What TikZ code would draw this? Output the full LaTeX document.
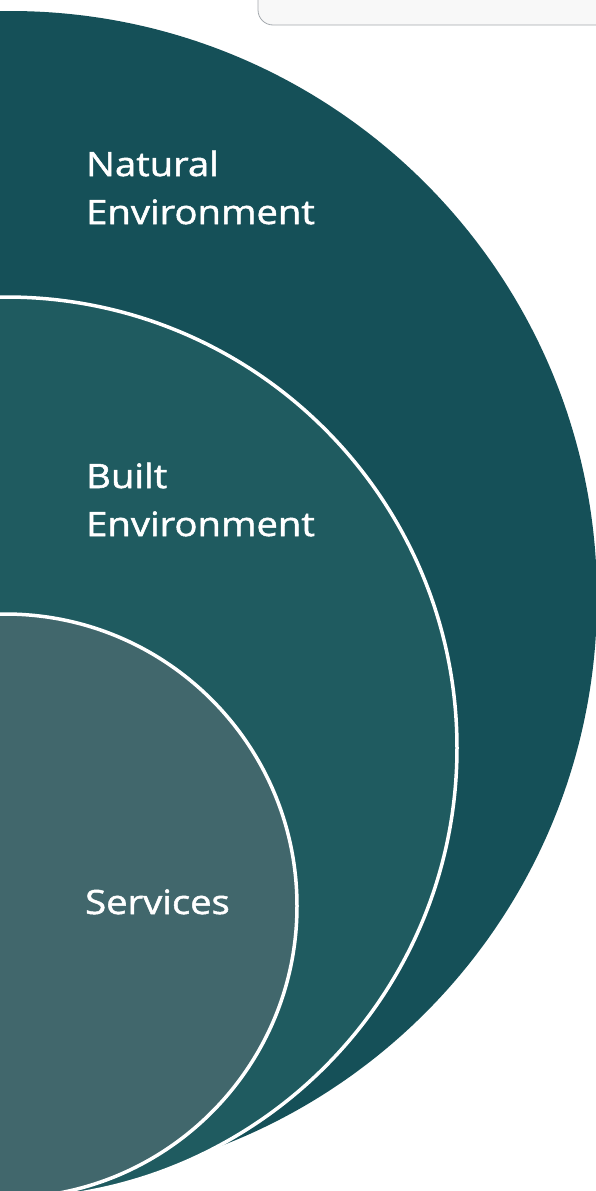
\documentclass[tikz,border=0pt]{standalone}
\usepackage{fontspec}
\setmainfont{Open Sans}[FakeBold=1.5,FakeStretch=1.14]
\definecolor{outerc}{HTML}{155058}
\definecolor{midc}{HTML}{1F5B60}
\definecolor{innerc}{HTML}{41676C}
\definecolor{boxfill}{HTML}{F8F8F8}
\definecolor{boxline}{HTML}{A3A8AD}
\begin{document}
\begin{tikzpicture}[x=1pt,y=-1pt,
  ring/.style={draw=white,line width=3.5pt},
  lbl/.style={text=white,inner sep=0pt,anchor=base west,align=left,
    font=\fontsize{33.5}{48}\selectfont}]
\useasboundingbox (0,0) rectangle (596,1191);
\clip (0,0) rectangle (596,1191);
\draw[fill=boxfill,draw=boxline,line width=0.8pt,rounded corners=15pt] (258,-30) rectangle (640,25);
\fill[outerc] (10,598) circle[radius=587];
\filldraw[fill=midc,ring] (6,748) circle[radius=451];
\filldraw[fill=innerc,ring] (5,906) circle[radius=292];
\node[lbl] (nat) at (86,224) {Natural\\Environment};
\node[lbl] (blt) at (86,536) {Built\\Environment};
\node[lbl] (srv) at (85,914) {Services};
\end{tikzpicture}
\end{document}
